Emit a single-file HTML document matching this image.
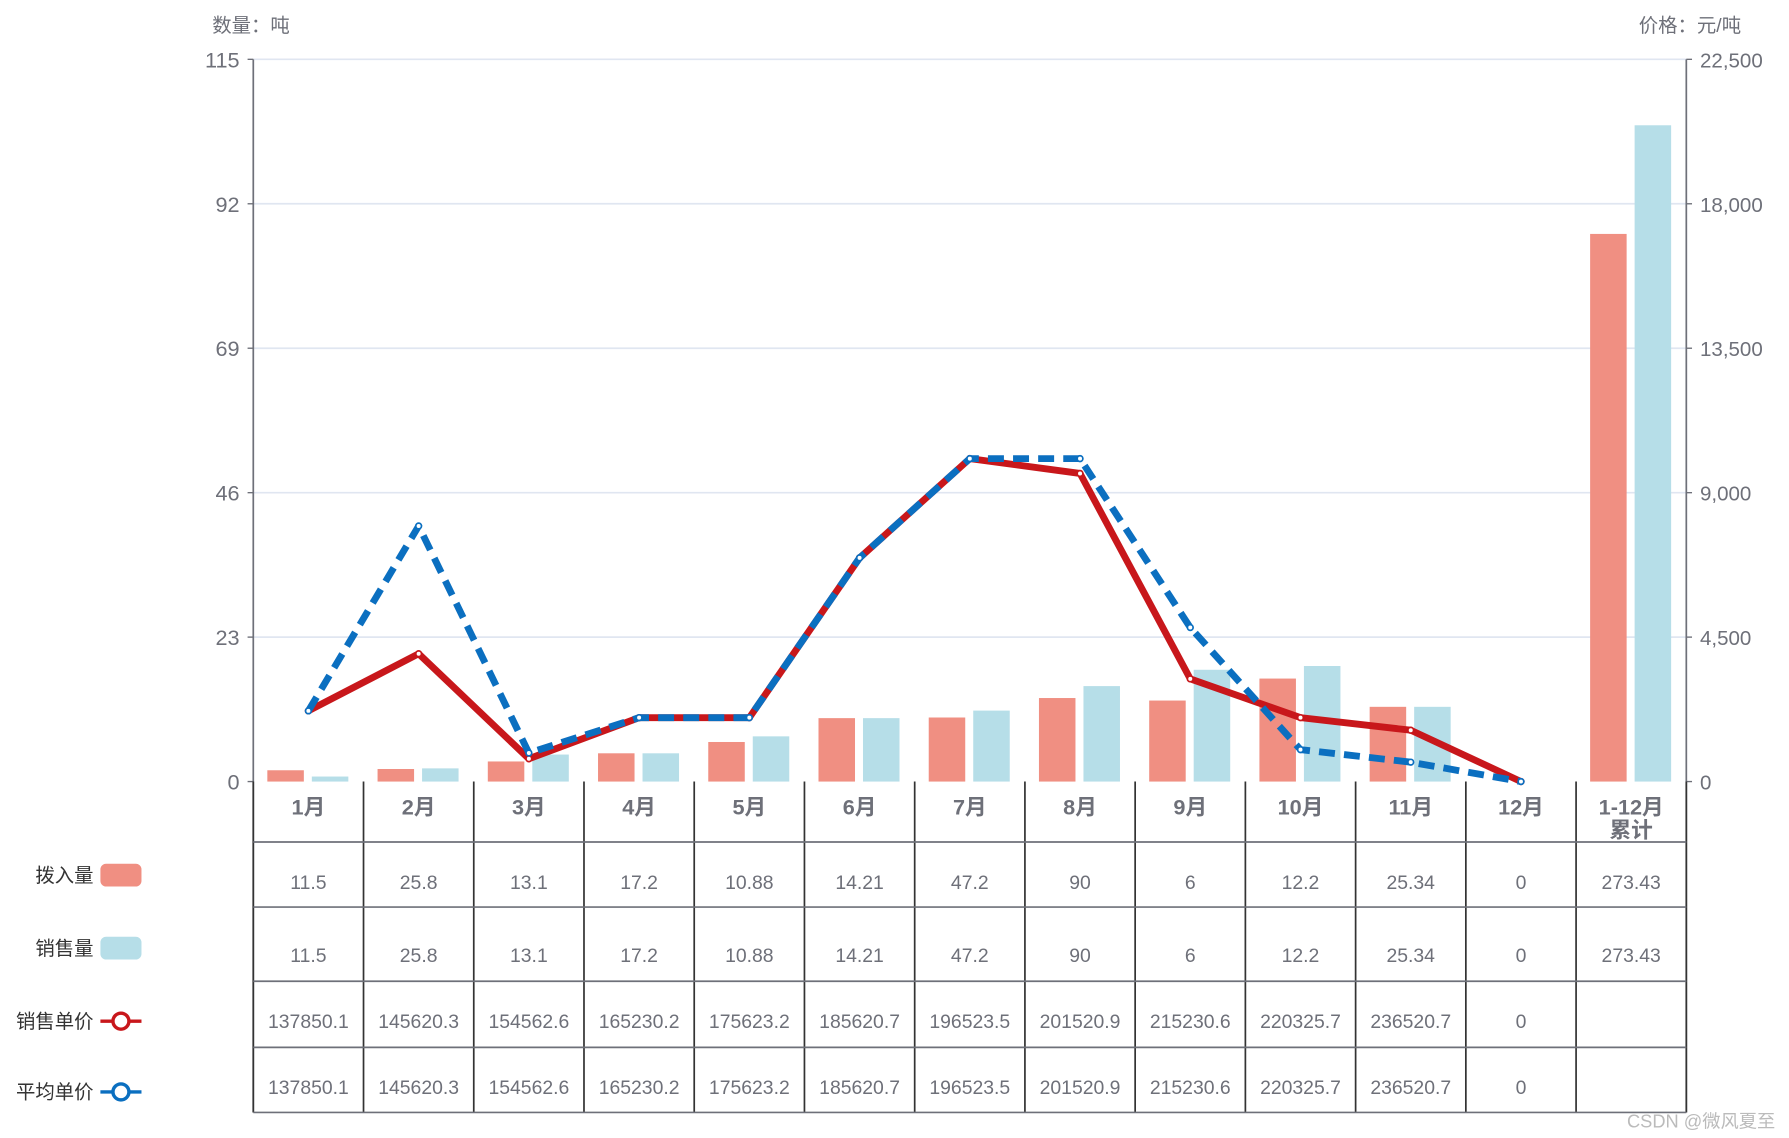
<!DOCTYPE html>
<html><head><meta charset="utf-8"><style>
html,body{margin:0;padding:0;background:#fff;}
svg{display:block;font-family:"Liberation Sans","Noto Sans CJK SC",sans-serif;}
</style></head><body>
<svg id="chart" width="1789" height="1138" viewBox="0 0 1568 997.4" preserveAspectRatio="none" xmlns="http://www.w3.org/2000/svg">
<g id="g"></g>
</svg>
<script>
const categories=["1月","2月","3月","4月","5月","6月","7月","8月","9月","10月","11月","12月","1-12月"];
const inQty=[1.8,2.0,3.2,4.5,6.3,10.1,10.2,13.3,12.9,16.4,11.9,0,87.2];
const saleQty=[0.8,2.1,4.3,4.5,7.2,10.1,11.3,15.2,17.8,18.4,11.9,0,104.5];
const salePrice=[2204,3982,711,1991,1991,6968,10061,9599,3200,1991,1600,0];
const avgPrice=[2204,7963,889,1991,1991,6968,10061,10061,4800,995,604,0];
const leftTicks=[0,23,46,69,92,115];
const rightTicks=["0","4,500","9,000","13,500","18,000","22,500"];
const rowIn=["11.5","25.8","13.1","17.2","10.88","14.21","47.2","90","6","12.2","25.34","0","273.43"];
const rowSale=["11.5","25.8","13.1","17.2","10.88","14.21","47.2","90","6","12.2","25.34","0","273.43"];
const rowSP=["137850.1","145620.3","154562.6","165230.2","175623.2","185620.7","196523.5","201520.9","215230.6","220325.7","236520.7","0",""];
const rowAP=["137850.1","145620.3","154562.6","165230.2","175623.2","185620.7","196523.5","201520.9","215230.6","220325.7","236520.7","0",""];

const NS="http://www.w3.org/2000/svg";
const g=document.getElementById('g');
const X0=222,X1=1478,Y0=685,Y1=52;
const cw=(X1-X0)/categories.length;
const yL=v=>Y0-(v/115)*(Y0-Y1);
const yR=v=>Y0-(v/22500)*(Y0-Y1);
const cx=i=>X0+cw*(i+0.5);
function el(t,a,txt){const e=document.createElementNS(NS,t);for(const k in a)e.setAttribute(k,a[k]);if(txt!==undefined)e.textContent=txt;g.appendChild(e);return e;}

// grid + ticks
leftTicks.forEach((v,i)=>{
  const y=yL(v);
  if(i>0){const l=el('line',{x1:X0,x2:X1,y1:y,y2:y,stroke:'#e0e6f1','stroke-width':1.5});
  
  }
  const t=el('text',{x:X0-12,y:y+7,'text-anchor':'end','font-size':19,fill:'#6e7079'},String(v));
  
  
  el('line',{x1:X0-5,x2:X0,y1:y,y2:y,stroke:'#6e7079','stroke-width':1.2});
  const r=el('text',{x:X1+12,y:y+7,'font-size':18,fill:'#6e7079'},rightTicks[i]);
  
  
  el('line',{x1:X1,x2:X1+5,y1:y,y2:y,stroke:'#6e7079','stroke-width':1.2});
});
let t1=el('text',{x:186,y:28,'font-size':17,fill:'#6e7079'},'数量：吨');


let t2=el('text',{x:1526,y:28,'font-size':17,fill:'#6e7079','text-anchor':'end'},'价格：元/吨');



// bars
categories.forEach((c,i)=>{
  const c0=cx(i);
  const b1=el('rect',{x:c0-36,y:yL(inQty[i]),width:32,height:Y0-yL(inQty[i]),fill:'#f08f82'});
  
  
  const b2=el('rect',{x:c0+3,y:yL(saleQty[i]),width:32,height:Y0-yL(saleQty[i]),fill:'#b6dee8'});
  
  
});

// axes
el('line',{x1:X0,x2:X0,y1:Y1,y2:975,stroke:'#6e7079','stroke-width':1.5});
el('line',{x1:X1,x2:X1,y1:Y1,y2:975,stroke:'#6e7079','stroke-width':1.5});

// lines
function line(data,color,dash,name){
  const pts=data.map((v,i)=>cx(i)+','+yR(v)).join(' ');
  const a={points:pts,fill:'none',stroke:color,'stroke-width':6,'stroke-linejoin':'round'};
  if(dash)a['stroke-dasharray']=dash;
  const p=el('polyline',a);
  
  
  data.forEach((v,i)=>{
    const m=el('circle',{cx:cx(i),cy:yR(v),r:2.5,fill:'#fff',stroke:color,'stroke-width':1.5});
    
    
  });
}
line(salePrice,'#c8171b',null,'sale-price-line');
line(avgPrice,'#0b6fc0','14 8','avg-price-line');

// table
const rowsY=[685,738,795,860,918,975];
for(let i=0;i<=categories.length;i++){const x=X0+cw*i;el('line',{x1:x,x2:x,y1:685,y2:975,stroke:'#333','stroke-width':1.5});}
rowsY.slice(1).forEach(y=>el('line',{x1:X0,x2:X1,y1:y,y2:y,stroke:'#6e7079','stroke-width':1.5}));
categories.forEach((c,i)=>{
  const h=el('text',{x:cx(i),y:714,'text-anchor':'middle','font-size':19,'font-weight':'bold',fill:'#6e7079'},c);
  
  
});
let h2=el('text',{x:cx(12),y:734,'text-anchor':'middle','font-size':19,'font-weight':'bold',fill:'#6e7079'},'累计');


[[rowIn,779],[rowSale,843],[rowSP,901],[rowAP,959]].forEach(([row,y])=>{
  row.forEach((v,i)=>{
    const t=el('text',{x:cx(i),y:y,'text-anchor':'middle','font-size':17,fill:'#6e7079'},v);
    
    
  });
});

// legend
const lg=[['拨入量',767,'bar','#f08f82'],['销售量',831,'bar','#b6dee8'],['销售单价',895,'line','#c8171b'],['平均单价',957,'line','#0b6fc0']];
lg.forEach(([n,y,t,c])=>{
  const tx=el('text',{x:82,y:y+6,'text-anchor':'end','font-size':17,fill:'#333'},n);
  
  
  if(t==='bar'){const r=el('rect',{x:88,y:y-10,width:36,height:20,rx:5,fill:c});
    
    }
  else{el('line',{x1:88,x2:124,y1:y,y2:y,stroke:c,'stroke-width':3});
    const ci=el('circle',{cx:106,cy:y,r:7,fill:'#fff',stroke:c,'stroke-width':3});
    
    }
});
let wm=el('text',{x:1556,y:988,'text-anchor':'end','font-size':16,fill:'#bbb'},'CSDN @微风夏至');


</script>
</body></html>
